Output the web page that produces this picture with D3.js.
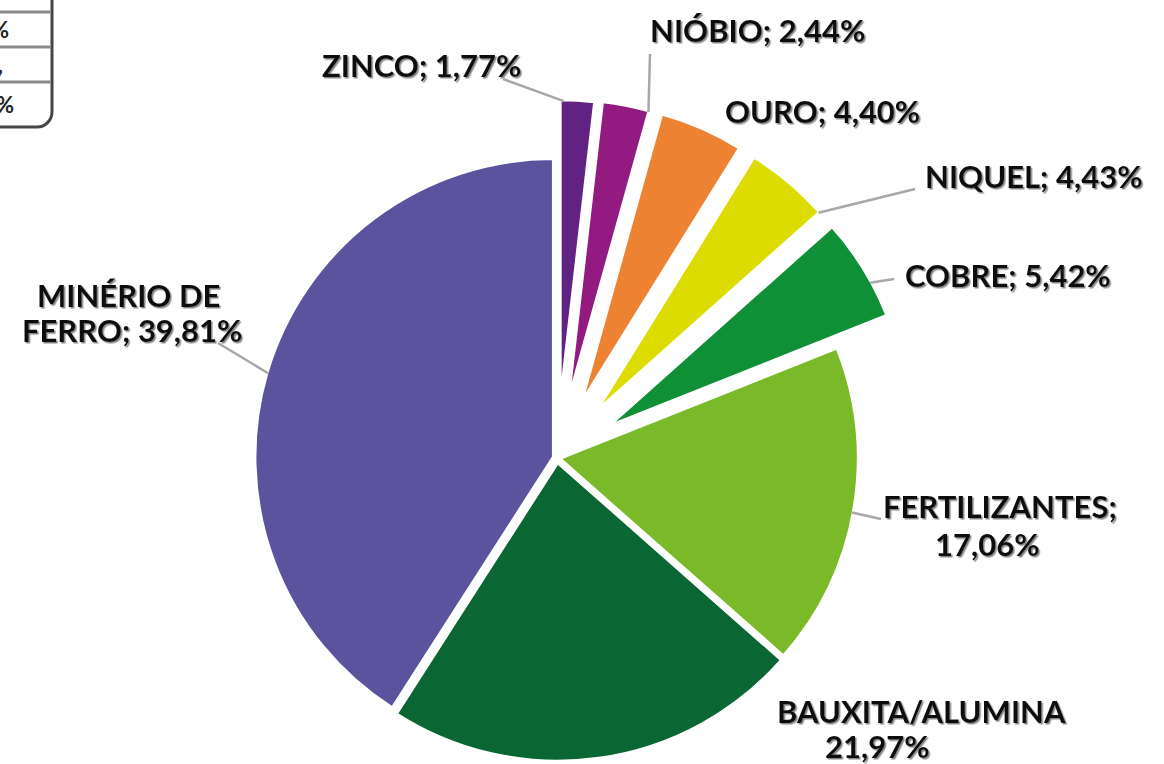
<!DOCTYPE html>
<html>
<head>
<meta charset="utf-8">
<script src="https://cdn.jsdelivr.net/npm/d3@7"></script>
<style>
  html, body { margin: 0; padding: 0; background: #fff; overflow: hidden; }
  .lbl { font-family: Lato, "Open Sans", sans-serif; font-weight: 700; font-size: 31px; fill: #111; }
  .leg { font-family: Lato, sans-serif; font-weight: 700; font-size: 22px; fill: #222; }
</style>
</head>
<body>
<div id="main"></div>
<script>
// Data
const names = ['ZINCO', 'NIÓBIO', 'OURO', 'NIQUEL', 'COBRE', 'FERTILIZANTES', 'BAUXITA/ALUMINA', 'MINÉRIO DE FERRO'];
const shares = [1.77, 2.44, 4.40, 4.43, 5.42, 17.06, 21.97, 39.81];
const colors = ['#612383', '#921a80', '#ee8233', '#dcdc00', '#0f9037', '#7ab928', '#0a6733', '#5c539f'];

// fragment of the legend table cut off at top-left
const legendRows = ['', '0,0%', '0,', '0,0%'];

// layout: explode distance, where the leader touches the slice (0..1 of its span),
// label line positions, leader start, words on first line, separator
const explode = [60, 61, 62, 62, 62, 3, 5, 4];
const labelLayout = [
  { lines: [[322, 77]], lead: [503, 79], t: 0.1, brk: 9, sep: '; ' },
  { lines: [[650, 42]], lead: [650, 54], t: 1.0, brk: 9, sep: '; ' },
  { lines: [[725, 123]], lead: null, t: 0.5, brk: 9, sep: '; ' },
  { lines: [[925, 188]], lead: [915, 189], t: 1.0, brk: 9, sep: '; ' },
  { lines: [[905, 287]], lead: [894, 279], t: 0.65, brk: 9, sep: '; ' },
  { lines: [[883, 518], [935, 556]], lead: [881, 519], t: 0.51, brk: 1, sep: '; ' },
  { lines: [[777, 723], [825, 758]], lead: null, t: 0.5, brk: 1, sep: ' ' },
  { lines: [[37, 307], [22, 342]], lead: [218, 343], t: 0.5, brk: 2, sep: '; ' }
];

const w = 1164;
const h = 764;
const cx = 557;
const cy = 458;
const r = 298;

const data = names.map((n, i) => ({ name: n, v: shares[i], i: i }));

const svg = d3.select('#main')
  .append('svg')
  .attr('width', w)
  .attr('height', h);

const defs = svg.append('defs');
const f = defs.append('filter').attr('id', 'shadow').attr('x', '-10%').attr('y', '-20%').attr('width', '130%').attr('height', '160%');
f.append('feDropShadow')
  .attr('dx', 1.5).attr('dy', 1.5).attr('stdDeviation', 0.7)
  .attr('flood-color', '#7a7a7a').attr('flood-opacity', 0.9);

// legend fragment
const leg = svg.append('g');
leg.append('rect')
  .attr('x', -220).attr('y', -30)
  .attr('width', 272).attr('height', 157)
  .attr('rx', 15)
  .style('fill', '#fff')
  .style('stroke', '#454545')
  .style('stroke-width', 3);
const rowY = [-30, 12, 47, 82, 127];
[12, 47, 82].forEach((y) => {
  leg.append('line')
    .attr('x1', -220).attr('x2', 50.5)
    .attr('y1', y).attr('y2', y)
    .style('stroke', '#8a8a8a')
    .style('stroke-width', 3);
});
const legEnd = [10, 9, 3, 14];
legendRows.forEach((t, i) => {
  leg.append('text')
    .attr('class', 'leg')
    .attr('x', legEnd[i])
    .attr('y', (rowY[i] + rowY[i + 1]) / 2 + 8)
    .attr('text-anchor', 'end')
    .text(t);
});

const pie = d3.pie().sort(null).value((d) => d.v);
const arcs = pie(data);
const arc = d3.arc().innerRadius(0).outerRadius(r);

const off = (a) => {
  const m = (a.startAngle + a.endAngle) / 2;
  const d = explode[a.data.i];
  return [d * Math.sin(m), -d * Math.cos(m)];
};

const g = svg.append('g').attr('transform', `translate(${cx}, ${cy})`);

// leader lines
arcs.forEach((a) => {
  const L = labelLayout[a.data.i];
  if (!L.lead) return;
  const o = off(a);
  const ang = a.startAngle + L.t * (a.endAngle - a.startAngle);
  const px = cx + o[0] + (r - 1) * Math.sin(ang);
  const py = cy + o[1] - (r - 1) * Math.cos(ang);
  svg.append('line')
    .attr('x1', L.lead[0]).attr('y1', L.lead[1])
    .attr('x2', px).attr('y2', py)
    .style('stroke', '#a8a8a8')
    .style('stroke-width', 2.5);
});

g.selectAll('path')
  .data(arcs)
  .enter()
  .append('path')
  .attr('d', arc)
  .attr('transform', (d) => `translate(${off(d)[0]}, ${off(d)[1]})`)
  .style('fill', (d) => colors[d.data.i])
  .style('stroke', '#fff')
  .style('stroke-width', 2.5)
  .style('stroke-linejoin', 'round');

// labels
const fmt = (v) => d3.format('.2f')(v).replace('.', ',') + '%';
arcs.forEach((a) => {
  const L = labelLayout[a.data.i];
  const words = (a.data.name + L.sep + fmt(a.data.v)).split(' ');
  const parts = [words.slice(0, L.brk).join(' '), words.slice(L.brk).join(' ')].filter((s) => s.length);
  parts.forEach((p, k) => {
    svg.append('text')
      .attr('class', 'lbl')
      .attr('x', L.lines[k][0])
      .attr('y', L.lines[k][1])
      .attr('filter', 'url(#shadow)')
      .text(p);
  });
});
</script>
</body>
</html>
